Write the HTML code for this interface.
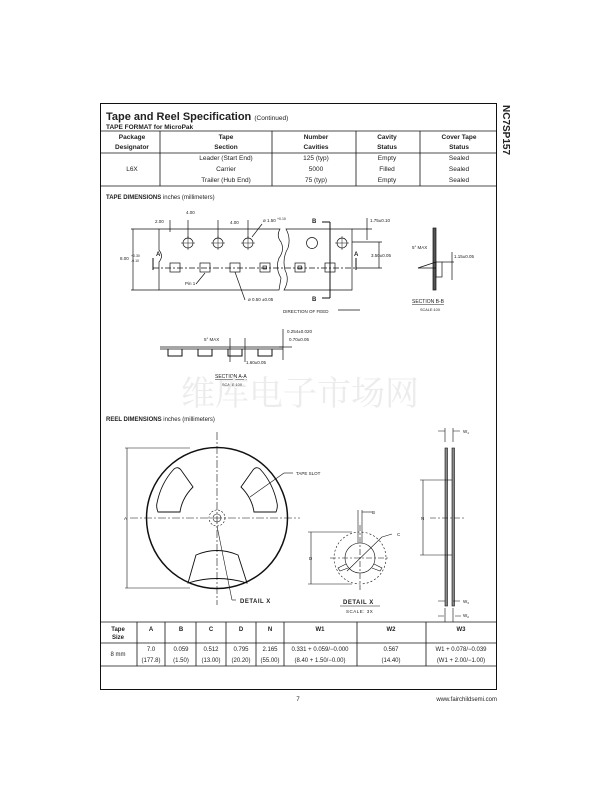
<!DOCTYPE html>
<html><head><meta charset="utf-8"><style>
html,body{margin:0;padding:0;background:#fff;}
svg{display:block;}
text{font-family:"Liberation Sans",Arial,sans-serif;fill:#222;}
text.wm{fill:#ececec;font-family:"Noto Serif CJK SC","Noto Sans CJK SC",serif;}
</style></head><body>
<svg width="612" height="792" viewBox="0 0 612 792" xmlns="http://www.w3.org/2000/svg">
<rect x="100.5" y="103.5" width="396" height="586" fill="none" stroke="#111" stroke-width="1"/>
<text x="0" y="0" transform="translate(503,105) rotate(90)" font-size="10" font-weight="bold">NC7SP157</text>
<text x="106" y="120" font-size="11" font-weight="bold">Tape and Reel Specification <tspan font-size="6.5" font-weight="normal">(Continued)</tspan></text>
<text x="106" y="129" font-size="6.5" font-weight="bold">TAPE FORMAT for MicroPak</text>
<g stroke="#111" stroke-width="0.8">
<line x1="100" y1="131" x2="497" y2="131"/>
<line x1="100" y1="153" x2="497" y2="153"/>
<line x1="100" y1="186" x2="497" y2="186"/>
<line x1="160" y1="131" x2="160" y2="186"/>
<line x1="272" y1="131" x2="272" y2="186"/>
<line x1="356" y1="131" x2="356" y2="186"/>
<line x1="420" y1="131" x2="420" y2="186"/>
</g>
<g font-size="6.5" font-weight="bold" text-anchor="middle">
<text x="132" y="139">Package</text><text x="132" y="149">Designator</text>
<text x="226" y="139">Tape</text><text x="226" y="149">Section</text>
<text x="316" y="139">Number</text><text x="316" y="149">Cavities</text>
<text x="387" y="139">Cavity</text><text x="387" y="149">Status</text>
<text x="459" y="139">Cover Tape</text><text x="459" y="149">Status</text>
</g>
<g font-size="6.5" text-anchor="middle">
<text x="132" y="171">L6X</text>
<text x="226" y="160">Leader (Start End)</text><text x="226" y="171">Carrier</text><text x="226" y="182">Trailer (Hub End)</text>
<text x="316" y="160">125 (typ)</text><text x="316" y="171">5000</text><text x="316" y="182">75 (typ)</text>
<text x="387" y="160">Empty</text><text x="387" y="171">Filled</text><text x="387" y="182">Empty</text>
<text x="459" y="160">Sealed</text><text x="459" y="171">Sealed</text><text x="459" y="182">Sealed</text>
</g>
<text x="106" y="199" font-size="6" font-weight="bold">TAPE DIMENSIONS <tspan font-weight="normal">inches (millimeters)</tspan></text>

<g stroke="#111" stroke-width="0.7" fill="none">
<path d="M159,229 H280 Q276,236 281,242 Q285,250 279,258 Q275,268 281,278 L279,290 H159 V262 Q164,256 159,250 Z"/>
<path d="M286,229 H352 V290 H284 Q290,280 285,270 Q282,258 288,248 Q291,238 286,229 Z"/>
<circle cx="188" cy="243" r="5"/><circle cx="218" cy="243" r="5"/><circle cx="248" cy="243" r="5"/>
<circle cx="312" cy="243" r="5.5"/><circle cx="342" cy="243" r="5"/>
<path d="M181,243h14M188,236v14M211,243h14M218,236v14M241,243h14M248,236v14M335,243h14M342,236v14" stroke-width="0.5"/>
<rect x="170" y="263" width="10" height="9"/><rect x="200" y="263" width="10" height="9"/><rect x="230" y="263" width="10" height="9"/>
<rect x="260" y="263" width="10" height="9"/><rect x="295" y="263" width="10" height="9"/><rect x="325" y="263" width="10" height="9"/>
<rect x="263" y="266" width="3.5" height="3"/><rect x="298" y="266" width="3.5" height="3"/>
<line x1="153" y1="268" x2="356" y2="268" stroke-dasharray="6,2,2,2"/>
<line x1="153" y1="258" x2="153" y2="270" stroke-width="1"/>
<line x1="356" y1="258" x2="356" y2="270" stroke-width="1"/>
<line x1="330" y1="222" x2="330" y2="298" stroke-width="1"/>
<line x1="322" y1="222" x2="330" y2="222" stroke-width="1"/>
<line x1="322" y1="298" x2="330" y2="298" stroke-width="1"/>
<line x1="131" y1="229" x2="159" y2="229"/><line x1="131" y1="290" x2="159" y2="290"/>
<line x1="133" y1="229" x2="133" y2="290"/>
<line x1="170" y1="220" x2="170" y2="232"/><line x1="188" y1="220" x2="188" y2="238"/>
<line x1="218" y1="220" x2="218" y2="238"/><line x1="248" y1="220" x2="248" y2="238"/>
<line x1="252" y1="237" x2="262" y2="224"/>
<line x1="205" y1="273" x2="196" y2="284"/>
<line x1="235" y1="272" x2="245" y2="300"/>
<line x1="352" y1="229" x2="372" y2="229"/><line x1="367" y1="218" x2="367" y2="240"/>
<line x1="356" y1="268" x2="382" y2="268"/><line x1="379" y1="242" x2="379" y2="268"/>
<line x1="352" y1="242" x2="382" y2="242"/>
<line x1="338" y1="310" x2="360" y2="310"/>
<rect x="433" y="228" width="3" height="62" fill="#555"/>
<rect x="436" y="262" width="6" height="15"/>
<line x1="418" y1="268" x2="436" y2="262"/><line x1="418" y1="268" x2="436" y2="268"/>
<line x1="442" y1="262" x2="454" y2="262"/><line x1="452" y1="252" x2="452" y2="280"/>
<path d="M160,347 H283 M160,349 H283"/>
<path d="M168,349 v7 h14 v-7 M198,349 v7 h14 v-7 M228,349 v7 h14 v-7 M258,349 v7 h14 v-7" stroke-width="1"/>
<line x1="283" y1="329" x2="283" y2="360"/><line x1="279" y1="347" x2="292" y2="347"/>
<line x1="230" y1="338" x2="230" y2="362"/><line x1="245" y1="338" x2="245" y2="362"/>
</g>
<g font-size="4.5">
<text x="155" y="223">2.00</text><text x="186" y="214">4.00</text><text x="230" y="224">4.00</text>
<text x="263" y="222">ø 1.50 <tspan font-size="3.5" dy="-2">+0.10</tspan></text>
<text x="120" y="260">8.00</text><text x="131" y="257" font-size="3.5">+0.30</text><text x="131" y="262" font-size="3.5">-0.10</text>
<text x="185" y="285">Pin 1</text><text x="248" y="301">ø 0.50 ±0.05</text>
<text x="370" y="222">1.75±0.10</text><text x="371" y="257">3.50±0.05</text>
<text x="283" y="313">DIRECTION OF FEED</text>
<text x="412" y="249">5° MAX</text><text x="454" y="258">1.15±0.05</text>
<text x="287" y="333">0.254±0.020</text><text x="289" y="341">0.70±0.05</text>
<text x="204" y="341">5° MAX</text><text x="246" y="364">1.60±0.05</text>
</g>
<g font-size="6" font-weight="bold">
<text x="312" y="223">B</text><text x="312" y="301">B</text>
<text x="156" y="256">A</text><text x="354" y="256">A</text>
</g>
<text x="412" y="303" font-size="5" text-decoration="underline">SECTION B-B</text>
<text x="420" y="311" font-size="3.8">SCALE:10X</text>
<text x="215" y="378" font-size="5" text-decoration="underline">SECTION A-A</text>
<text x="222" y="386" font-size="3.8">SCALE:10X</text>
<text class="wm" x="300" y="405" font-size="34" text-anchor="middle">维库电子市场网</text>

<text x="106" y="421" font-size="6" font-weight="bold">REEL DIMENSIONS <tspan font-weight="normal">inches (millimeters)</tspan></text>
<g stroke="#111" fill="none" stroke-width="0.6">
<circle cx="217" cy="518" r="70.5" stroke-width="1.5"/>
<path d="M174,469 Q178,466 181,470 L193,487 Q182,498 180,512 L158,512 Q156,507 157,503 Q161,483 174,469 Z" stroke-width="0.9"/>
<path d="M260,469 Q256,466 253,470 L241,487 Q252,498 254,512 L276,512 Q278,507 277,503 Q273,483 260,469 Z" stroke-width="0.9"/>
<path d="M196,555 Q217,546 238,555 L247,583 Q217,574 188,583 Z" stroke-width="0.9"/>
<circle cx="217" cy="518" r="8" stroke-dasharray="2,1.5"/>
<circle cx="217" cy="518" r="4"/>
<line x1="130" y1="518" x2="300" y2="518" stroke-dasharray="8,2,2,2"/>
<line x1="217" y1="432" x2="217" y2="605" stroke-dasharray="8,2,2,2"/>
<line x1="125" y1="448" x2="190" y2="448"/><line x1="125" y1="588" x2="190" y2="588"/>
<line x1="127" y1="448" x2="127" y2="588"/>
<line x1="250" y1="497" x2="284" y2="473"/><line x1="284" y1="473" x2="293" y2="473"/>
<line x1="217" y1="526" x2="232" y2="600"/><line x1="232" y1="600" x2="236" y2="600"/>
<circle cx="360" cy="558" r="26" stroke-dasharray="2,2"/>
<circle cx="360" cy="558" r="15"/>
<line x1="330" y1="558" x2="390" y2="558" stroke-dasharray="6,2,2,2"/>
<line x1="360" y1="525" x2="360" y2="590" stroke-dasharray="6,2,2,2"/>
<path d="M358,532 v11 M362,532 v11 M358,510 v22 M362,510 v22"/>
<path d="M346,564 l-8,4 l2,3 l8,-3 M374,564 l8,4 l-2,3 l-8,-3"/>
<line x1="347" y1="571" x2="382" y2="537"/><line x1="382" y1="537" x2="392" y2="534"/>
<line x1="308" y1="532" x2="352" y2="532"/><line x1="308" y1="584" x2="352" y2="584"/>
<line x1="311" y1="532" x2="311" y2="584"/>
<line x1="362" y1="512" x2="372" y2="512"/>
<rect x="445" y="448" width="2.5" height="158" fill="#888"/>
<rect x="452" y="448" width="2.5" height="158" fill="#888"/>
<line x1="447" y1="480" x2="452" y2="480"/><line x1="447" y1="555" x2="452" y2="555"/>
<line x1="420" y1="480" x2="447" y2="480"/><line x1="420" y1="555" x2="447" y2="555"/>
<line x1="423" y1="480" x2="423" y2="555"/>
<line x1="430" y1="518" x2="465" y2="518" stroke-dasharray="6,2,2,2"/>
<path d="M445,428 v14 M453,428 v14 M445,608 v14 M453,608 v14"/>
<path d="M438,431 h7 M453,431 h7 M438,601 h7 M453,601 h7 M438,616 h6 M455,616 h6"/>
</g>
<g font-size="4.5">
<text x="296" y="475">TAPE SLOT</text><text x="124" y="520">A</text>
<text x="372" y="514">B</text><text x="397" y="536">C</text><text x="309" y="560">D</text>
<text x="421" y="520">N</text>
<text x="463" y="433">W<tspan font-size="3" dy="1">1</tspan></text>
<text x="463" y="603">W<tspan font-size="3" dy="1">3</tspan></text>
<text x="463" y="617">W<tspan font-size="3" dy="1">2</tspan></text>
</g>
<text x="240" y="603" font-size="6" font-weight="bold" letter-spacing="0.5">DETAIL X</text>
<text x="343" y="604" font-size="6" font-weight="bold" letter-spacing="0.5">DETAIL X</text>
<line x1="340" y1="606" x2="380" y2="606" stroke="#111" stroke-width="0.5"/>
<text x="346" y="613" font-size="4.5" letter-spacing="0.5">SCALE: 3X</text>

<g stroke="#111" stroke-width="0.8">
<line x1="100" y1="622" x2="497" y2="622"/>
<line x1="100" y1="643" x2="497" y2="643"/>
<line x1="100" y1="666" x2="497" y2="666"/>
<line x1="137" y1="622" x2="137" y2="666"/><line x1="165" y1="622" x2="165" y2="666"/>
<line x1="196" y1="622" x2="196" y2="666"/><line x1="226" y1="622" x2="226" y2="666"/>
<line x1="256" y1="622" x2="256" y2="666"/><line x1="284" y1="622" x2="284" y2="666"/>
<line x1="357" y1="622" x2="357" y2="666"/><line x1="426" y1="622" x2="426" y2="666"/>
</g>
<g font-size="6" font-weight="bold" text-anchor="middle">
<text x="118" y="631">Tape</text><text x="118" y="639">Size</text>
<text x="151" y="631">A</text><text x="181" y="631">B</text><text x="211" y="631">C</text>
<text x="241" y="631">D</text><text x="270" y="631">N</text><text x="320" y="631">W1</text>
<text x="391" y="631">W2</text><text x="461" y="631">W3</text>
</g>
<g font-size="6" text-anchor="middle">
<text x="118" y="656">8 mm</text>
<text x="151" y="651">7.0</text><text x="151" y="662">(177.8)</text>
<text x="181" y="651">0.059</text><text x="181" y="662">(1.50)</text>
<text x="211" y="651">0.512</text><text x="211" y="662">(13.00)</text>
<text x="241" y="651">0.795</text><text x="241" y="662">(20.20)</text>
<text x="270" y="651">2.165</text><text x="270" y="662">(55.00)</text>
<text x="320" y="651">0.331 + 0.059/−0.000</text><text x="320" y="662">(8.40 + 1.50/−0.00)</text>
<text x="391" y="651">0.567</text><text x="391" y="662">(14.40)</text>
<text x="461" y="651">W1 + 0.078/−0.039</text><text x="461" y="662">(W1 + 2.00/−1.00)</text>
</g>
<text x="298" y="701" font-size="6" text-anchor="middle">7</text>
<text x="497" y="701" font-size="6" text-anchor="end">www.fairchildsemi.com</text>
</svg>
</body></html>
